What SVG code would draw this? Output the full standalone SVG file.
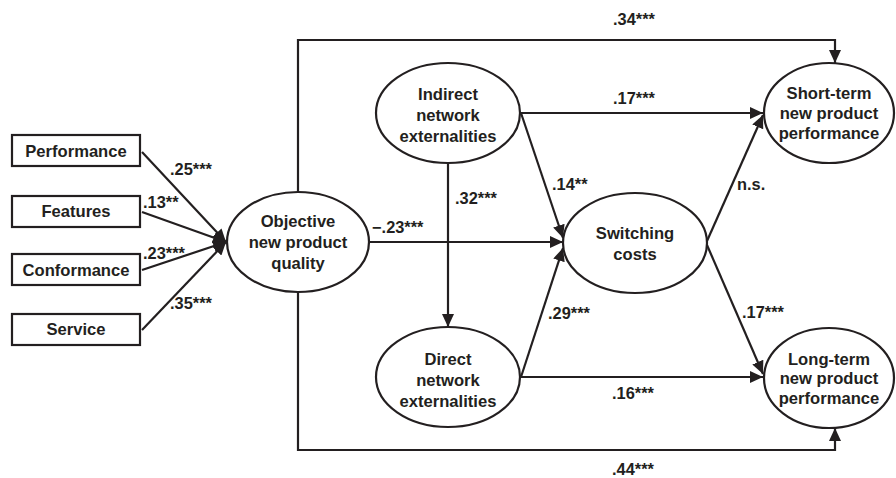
<svg xmlns="http://www.w3.org/2000/svg" width="896" height="478" viewBox="0 0 896 478">
<defs>
<marker id="ah" markerUnits="userSpaceOnUse" markerWidth="14" markerHeight="12" refX="13" refY="6" orient="auto">
<path d="M0,0 L13,6 L0,12 z" fill="#231f20"/>
</marker>
<style>
.n{fill:#fff;stroke:#231f20;stroke-width:2.2}
.t{font-family:"Liberation Sans",Arial,sans-serif;font-weight:bold;font-size:16.6px;fill:#231f20;text-anchor:middle}
.l{font-family:"Liberation Sans",Arial,sans-serif;font-weight:bold;font-size:16.4px;fill:#231f20}
.c{fill:none;stroke:#231f20;stroke-width:2.2;marker-end:url(#ah)}
</style>
</defs>
<rect width="896" height="478" fill="#fff"/>
<g id="connectors">
<path class="c" d="M142,152 L226,242"/>
<path class="c" d="M142,212 L226,242"/>
<path class="c" d="M142,270 L226,242"/>
<path class="c" d="M142,330 L226,242"/>
<path class="c" d="M298,192 V40 H835 V63"/>
<path class="c" d="M298,292 V450 H835 V428"/>
<path class="c" d="M369,242 H563"/>
<path class="c" d="M448,163 V327"/>
<path class="c" d="M521,113 L563,238"/>
<path class="c" d="M521,377 L563,248"/>
<path class="c" d="M521,113 H763"/>
<path class="c" d="M521,377 H763"/>
<path class="c" d="M707,241 L763,115"/>
<path class="c" d="M707,245 L763,374"/>
</g>
<g id="edge-labels">
<text class="l" x="170" y="175">.25***</text>
<text class="l" x="143" y="208">.13**</text>
<text class="l" x="143" y="259">.23***</text>
<text class="l" x="170" y="309">.35***</text>
<text class="l" x="613" y="25">.34***</text>
<text class="l" x="613" y="104">.17***</text>
<text class="l" x="552" y="190">.14**</text>
<text class="l" x="455" y="204">.32***</text>
<text class="l" x="372" y="233">−.23***</text>
<text class="l" x="548" y="319">.29***</text>
<text class="l" x="612" y="399">.16***</text>
<text class="l" x="612" y="475">.44***</text>
<text class="l" x="737" y="190">n.s.</text>
<text class="l" x="742" y="318">.17***</text>
</g>
<g id="performance"><rect class="n" x="12" y="135" width="128" height="31"/><text class="t" x="76" y="157">Performance</text></g>
<g id="features"><rect class="n" x="12" y="196" width="128" height="31"/><text class="t" x="76" y="217">Features</text></g>
<g id="conformance"><rect class="n" x="12" y="254" width="128" height="31"/><text class="t" x="76" y="276">Conformance</text></g>
<g id="service"><rect class="n" x="12" y="314" width="128" height="31"/><text class="t" x="76" y="335">Service</text></g>
<g id="objective"><ellipse class="n" cx="298" cy="242" rx="71" ry="50"/><text class="t" x="298" y="227">Objective</text><text class="t" x="298" y="248">new product</text><text class="t" x="298" y="269">quality</text></g>
<g id="indirect"><ellipse class="n" cx="448" cy="113" rx="72" ry="50"/><text class="t" x="448" y="100">Indirect</text><text class="t" x="448" y="121">network</text><text class="t" x="448" y="142">externalities</text></g>
<g id="direct"><ellipse class="n" cx="448" cy="377" rx="72" ry="50"/><text class="t" x="448" y="365">Direct</text><text class="t" x="448" y="386">network</text><text class="t" x="448" y="407">externalities</text></g>
<g id="switching"><ellipse class="n" cx="635" cy="243" rx="72" ry="50"/><text class="t" x="635" y="239">Switching</text><text class="t" x="635" y="260">costs</text></g>
<g id="short-term"><ellipse class="n" cx="829" cy="113" rx="65" ry="50"/><text class="t" x="829" y="99">Short-term</text><text class="t" x="829" y="119">new product</text><text class="t" x="829" y="139">performance</text></g>
<g id="long-term"><ellipse class="n" cx="829" cy="378" rx="65" ry="50"/><text class="t" x="829" y="365">Long-term</text><text class="t" x="829" y="384">new product</text><text class="t" x="829" y="404">performance</text></g>
</svg>
